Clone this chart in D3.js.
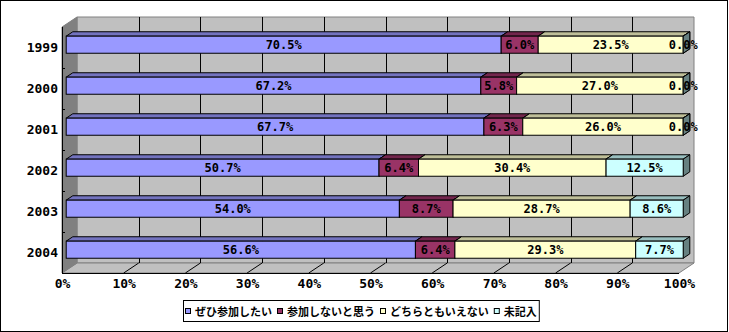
<!DOCTYPE html>
<html><head><meta charset="utf-8">
<script src="https://cdn.jsdelivr.net/npm/d3@7"></script>
<style>
html,body{margin:0;padding:0;background:#fff;}
svg{display:block;}
</style></head>
<body>
<svg id="chart" width="729" height="332"></svg>
<script>
const years = ["1999","2000","2001","2002","2003","2004"];
const seriesNames = ["ぜひ参加したい","参加しないと思う","どちらともいえない","未記入"];
const s1 = [70.5,67.2,67.7,50.7,54.0,56.6];
const s2 = [6.0,5.8,6.3,6.4,8.7,6.4];
const s3 = [23.5,27.0,26.0,30.4,28.7,29.3];
const s4 = [0.0,0.0,0.0,12.5,8.6,7.7];
const xTicks = [0,10,20,30,40,50,60,70,80,90,100];
const colors = ["#9999FF","#993366","#FFFFCC","#CCFFFF"];

const series = [s1,s2,s3,s4];
const svg = d3.select("#chart");
const W = 729, H = 332;
const X0 = 62, X1 = 679, YT = 27, YB = 273, DX = 15, DY = 10, F0 = 0.28, F1 = 0.72;
const NUMFONT = "'DejaVu Sans Mono', monospace";

svg.append("rect").attr("x",0.5).attr("y",0.5).attr("width",W-2).attr("height",H-1)
  .attr("fill","#fff").attr("stroke","#000").attr("stroke-width",1);

const x = d3.scaleLinear().domain([0,100]).range([X0,X1]);
const y = d3.scaleBand().domain(years).range([YT,YB]).paddingInner(1.4/2.4).paddingOuter(0.7/2.4);
const yAxisScale = d3.scaleBand().domain(years).range([YT,YB]);

const pts = a => a.map(p=>p.join(",")).join(" ");
// walls
svg.append("polygon").attr("points",pts([[X0+DX,YT-DY],[X1+DX,YT-DY],[X1+DX,YB-DY],[X0+DX,YB-DY]]))
  .attr("fill","#C0C0C0").attr("stroke","#808080");
svg.append("polygon").attr("points",pts([[X0,YB],[X1,YB],[X1+DX,YB-DY],[X0+DX,YB-DY]]))
  .attr("fill","#C0C0C0").attr("stroke","#808080");
svg.append("polygon").attr("points",pts([[X0,YT],[X0+DX,YT-DY],[X0+DX,YB-DY],[X0,YB]]))
  .attr("fill","#808080").attr("stroke","#808080");
// gridlines
const grid = svg.append("g").attr("stroke","#000").attr("stroke-width",1).attr("shape-rendering","crispEdges");
xTicks.filter(t=>t>0&&t<100).forEach(t=>{
  const gx = Math.round(x(t)+DX)+0.5;
  grid.append("line").attr("x1",gx).attr("x2",gx).attr("y1",YT-DY).attr("y2",YB-DY);
});
const fgrid = svg.append("g").attr("stroke","#000").attr("stroke-width",1);
xTicks.filter(t=>t>0&&t<100).forEach(t=>{
  fgrid.append("line").attr("x1",x(t)).attr("x2",x(t)+DX).attr("y1",YB).attr("y2",YB-DY);
});
// axes lines
svg.append("line").attr("x1",X0+0.5).attr("x2",X0+0.5).attr("y1",YT).attr("y2",YB).attr("stroke","#000");
svg.append("line").attr("x1",X0).attr("x2",X1).attr("y1",YB+0.5).attr("y2",YB+0.5).attr("stroke","#000");
years.slice(1).forEach(yr=>{
  const ty = Math.round(yAxisScale(yr))+0.5;
  svg.append("line").attr("x1",X0).attr("x2",X0+3).attr("y1",ty).attr("y2",ty).attr("stroke","#000");
});

// bars
const shade = (c,f)=>{const r=d3.rgb(c);return d3.rgb(r.r*f,r.g*f,r.b*f).formatHex();};
const ddx = (F1-F0)*DX, ddy = (F1-F0)*DY;
const bars = svg.append("g");
const labels = svg.append("g").attr("font-family",NUMFONT).attr("font-weight","bold").attr("font-size",12)
  .attr("text-anchor","middle").attr("fill","#000");
years.forEach((yr,i)=>{
  let cum = 0;
  const ty = y(yr) - F0*DY, by = ty + y.bandwidth();
  series.forEach((s,j)=>{
    const v = s[i];
    const fx0 = x(cum)+F0*DX, fx1 = x(cum+v)+F0*DX;
    cum += v;
    bars.append("polygon").attr("points",pts([[fx0,ty],[fx1,ty],[fx1+ddx,ty-ddy],[fx0+ddx,ty-ddy]]))
      .attr("fill",shade(colors[j],0.75)).attr("stroke","#000").attr("stroke-width",1);
    bars.append("polygon").attr("points",pts([[fx1,ty],[fx1+ddx,ty-ddy],[fx1+ddx,by-ddy],[fx1,by]]))
      .attr("fill",shade(colors[j],0.5)).attr("stroke","#000").attr("stroke-width",1);
    bars.append("rect").attr("x",fx0).attr("y",ty).attr("width",fx1-fx0).attr("height",by-ty)
      .attr("fill",colors[j]).attr("stroke","#000").attr("stroke-width",1);
    labels.append("text").attr("x",(fx0+fx1)/2).attr("y",(ty+by)/2+4.4).text(v.toFixed(1)+"%");
  });
});

// axes
const xa = svg.append("g").attr("transform",`translate(0,${YB})`)
  .call(d3.axisBottom(x).tickValues(xTicks).tickFormat(d=>d+"%").tickSize(0));
xa.select(".domain").remove();
xa.selectAll("text").attr("y",15).attr("dy",null).attr("font-family",NUMFONT).attr("font-weight","bold").attr("font-size",13).attr("fill","#000");
const ya = svg.append("g").attr("transform",`translate(${X0},0)`)
  .call(d3.axisLeft(yAxisScale).tickSize(0).tickPadding(4));
ya.select(".domain").remove();
ya.selectAll("text").attr("dy","0.36em").attr("font-family",NUMFONT).attr("font-weight","bold").attr("font-size",13).attr("fill","#000");

// legend
const lg = svg.append("g");
const lbox = lg.append("rect").attr("x",183.5).attr("y",300.5).attr("height",21).attr("fill","#fff").attr("stroke","#000");
let lx = 185;
seriesNames.forEach((n,j)=>{
  lg.append("rect").attr("x",lx+0.5).attr("y",308.5).attr("width",5).attr("height",5).attr("fill",colors[j]).attr("stroke","#000");
  const t = lg.append("text").attr("x",lx+10).attr("y",315.5).attr("font-family","'Noto Sans CJK JP'")
    .attr("font-weight","bold").attr("font-size",11).attr("fill","#000").text(n);
  lx += 10 + t.node().getComputedTextLength() + 5;
});
lbox.attr("width",lx-183-3);
</script>
</body></html>
